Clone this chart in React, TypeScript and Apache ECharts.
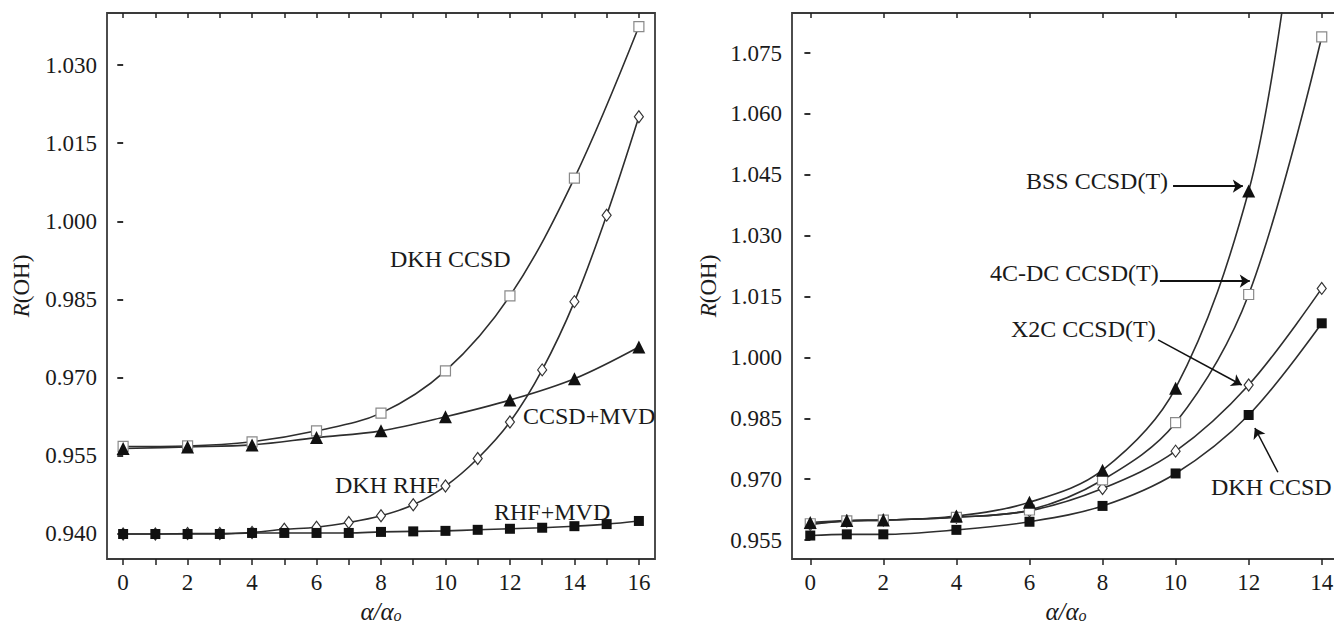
import React, { useEffect, useRef } from "react";
import * as echarts from "echarts";

// ---- Left panel data ----
const L_EVEN_X = [0, 2, 4, 6, 8, 10, 12, 14, 16];
const L_ALL_X = [0, 1, 2, 3, 4, 5, 6, 7, 8, 9, 10, 11, 12, 13, 14, 15, 16];
const L_DKH_CCSD = [0.9568, 0.9569, 0.9577, 0.9598, 0.9632, 0.9713, 0.9857, 1.0083, 1.0374];
const L_DKH_RHF = [0.94, 0.94, 0.9401, 0.9401, 0.9403, 0.9409, 0.9413, 0.9422, 0.9435, 0.9456, 0.9492, 0.9545, 0.9615, 0.9715, 0.9846, 1.0012, 1.0201];
const L_CCSD_MVD = [0.9564, 0.9567, 0.9571, 0.9585, 0.9598, 0.9625, 0.9657, 0.9698, 0.9759];
const L_RHF_MVD = [0.94, 0.94, 0.94, 0.94, 0.9402, 0.9402, 0.9402, 0.9402, 0.9404, 0.9405, 0.9406, 0.9408, 0.941, 0.9412, 0.9415, 0.9419, 0.9425];
const L_X_TICKS = [0, 1, 2, 3, 4, 5, 6, 7, 8, 9, 10, 11, 12, 13, 14, 15, 16];
const L_X_LABELS = [0, 2, 4, 6, 8, 10, 12, 14, 16];
const L_Y_TICKS = [0.94, 0.955, 0.97, 0.985, 1.0, 1.015, 1.03];

// ---- Right panel data ----
const R_X = [0, 1, 2, 4, 6, 8, 10, 12, 14];
const R_BSS_X = [0, 1, 2, 4, 6, 8, 10, 12, 13];
const R_BSS = [0.9593, 0.9598, 0.9599, 0.9609, 0.9643, 0.9722, 0.9924, 1.041, 1.091];
const R_4CDC = [0.959, 0.9597, 0.9599, 0.9606, 0.9624, 0.9698, 0.9839, 1.0155, 1.079];
const R_X2C = [0.9588, 0.9597, 0.9599, 0.9606, 0.9622, 0.9677, 0.9769, 0.9932, 1.017];
const R_DKH = [0.9561, 0.9564, 0.9564, 0.9575, 0.9595, 0.9634, 0.9714, 0.9858, 1.0084];
const R_X_TICKS = [0, 2, 4, 6, 8, 10, 12, 14];
const R_Y_TICKS = [0.955, 0.97, 0.985, 1.0, 1.015, 1.03, 1.045, 1.06, 1.075];

const FONT = '"Liberation Serif", "Times New Roman", Times, serif';
const INK = "#1a1a1a";
const LINE = "#2e2e2e";

function pairs(xs: number[], ys: number[]) {
  return xs.map((x, i) => [x, ys[i]]);
}

export default function App() {
  const ref = useRef<HTMLDivElement>(null);
  useEffect(() => {
    if (!ref.current) return;
    const chart = echarts.init(ref.current, undefined, { renderer: "svg" });

    const tickFont = { fontFamily: FONT, fontSize: 23, color: INK };
    const lineStyle = { color: LINE, width: 1.6 };

    const mkX = (grid: number, min: number, max: number, ticks: number[], labels: number[], inside: boolean) => ({
      type: "value",
      gridIndex: grid,
      min,
      max,
      axisLine: { show: false },
      splitLine: { show: false },
      axisTick: { show: true, inside, length: inside ? 5 : 6, customValues: ticks, lineStyle: { color: "#222", width: 1.5 } },
      axisLabel: inside
        ? { show: false }
        : { show: true, customValues: labels, margin: 12, ...tickFont, formatter: (v: number) => String(v) },
      ...(inside
        ? {}
        : {
            name: "{i|α/α}{s|o}",
            nameLocation: "middle",
            nameGap: 37,
            nameTextStyle: {
              rich: {
                i: { fontFamily: FONT, fontSize: 25, fontStyle: "italic", color: INK },
                s: { fontFamily: FONT, fontSize: 16, fontStyle: "italic", color: INK, padding: [9, 0, 0, 0] },
              },
            },
          }),
    });

    const mkY = (grid: number, min: number, max: number, ticks: number[], inside: boolean, gap: number) => ({
      type: "value",
      gridIndex: grid,
      min,
      max,
      axisLine: { show: false },
      splitLine: { show: false },
      axisTick: { show: true, inside, length: inside ? 5 : 6, customValues: ticks, lineStyle: { color: "#222", width: 1.5 } },
      axisLabel: inside
        ? { show: false }
        : { show: true, customValues: ticks, margin: 10, ...tickFont, formatter: (v: number) => v.toFixed(3) },
      ...(inside
        ? {}
        : {
            name: "{i|R}(OH)",
            nameLocation: "middle",
            nameRotate: 90,
            nameGap: gap,
            nameTextStyle: {
              fontFamily: FONT,
              fontSize: 23,
              color: INK,
              rich: {
                i: { fontFamily: FONT, fontSize: 23, fontStyle: "italic", color: INK },
              },
            },
          }),
    });

    const openSquare = { symbol: "rect", symbolSize: 10, itemStyle: { color: "#fff", borderColor: "#8a8a8a", borderWidth: 1.2 } };
    const openDiamond = { symbol: "diamond", symbolSize: [9, 12], itemStyle: { color: "#fff", borderColor: "#333", borderWidth: 1.2 } };
    const filledTri = { symbol: "triangle", symbolSize: 13, itemStyle: { color: "#111" } };
    const filledSquare = { symbol: "rect", symbolSize: 10, itemStyle: { color: "#111" } };

    const lineSeries = (name: string, xi: number, data: any[], marker: any, extra: any = {}) => ({
      type: "line",
      name,
      xAxisIndex: xi,
      yAxisIndex: xi,
      data,
      smooth: 0.35,
      showAllSymbol: true,
      lineStyle,
      clip: true,
      ...marker,
      ...extra,
    });

    const arrow = (from: number[], to: number[]) => [
      { coord: from, symbol: "none" },
      { coord: to, symbol: "arrow" },
    ];

    const bssData: any[] = pairs(R_BSS_X, R_BSS).map((p, i) =>
      i === R_BSS_X.length - 1 ? { value: p, symbol: "none" } : p
    );

    const text = (t: string, x: number, y: number) => ({
      type: "text",
      x,
      y,
      z: 100,
      style: {
        text: t,
        fontFamily: FONT,
        fontSize: 24,
        fill: INK,
        textAlign: "left",
        textVerticalAlign: "middle",
        align: "left",
        verticalAlign: "middle",
      },
    });

    const ml = (from: number[], to: number[], w: number) => ({
      silent: true,
      symbolSize: 10,
      label: { show: false },
      lineStyle: { color: "#111", width: w, type: "solid" },
      data: [arrow(from, to)],
    });

    const gridBase = {
      top: 13,
      bottom: 68,
      show: true,
      borderColor: "#3a3a3a",
      borderWidth: 1.8,
      backgroundColor: "transparent",
      containLabel: false,
      outerBoundsMode: "none",
    };

    chart.setOption({
      animation: false,
      backgroundColor: "#fff",
      grid: [
        { ...gridBase, left: 107, right: 679 },
        { ...gridBase, left: 792, right: -6 },
      ],
      xAxis: [
        mkX(0, -0.5, 16.5, L_X_TICKS, L_X_LABELS, false),
        mkX(1, -0.5, 14.5, R_X_TICKS, R_X_TICKS, false),
        mkX(0, -0.5, 16.5, L_X_TICKS, L_X_LABELS, true),
        mkX(1, -0.5, 14.5, R_X_TICKS, R_X_TICKS, true),
      ],
      yAxis: [
        mkY(0, 0.9352, 1.04, L_Y_TICKS, false, 74),
        mkY(1, 0.95032, 1.08486, R_Y_TICKS, false, 72),
        mkY(0, 0.9352, 1.04, L_Y_TICKS, true, 0),
        mkY(1, 0.95032, 1.08486, R_Y_TICKS, true, 0),
      ],
      series: [
        lineSeries("DKH RHF", 0, pairs(L_ALL_X, L_DKH_RHF), openDiamond),
        lineSeries("RHF+MVD", 0, pairs(L_ALL_X, L_RHF_MVD), filledSquare),
        lineSeries("DKH CCSD", 0, pairs(L_EVEN_X, L_DKH_CCSD), openSquare),
        lineSeries("CCSD+MVD", 0, pairs(L_EVEN_X, L_CCSD_MVD), filledTri),

        lineSeries("DKH CCSD (R)", 1, pairs(R_X, R_DKH), filledSquare, {
          markLine: ml([12.8, 0.9717], [12.17, 0.9826], 1.5),
        }),
        lineSeries("X2C CCSD(T)", 1, pairs(R_X, R_X2C), openDiamond, {
          markLine: ml([9.52, 1.0043], [11.81, 0.9932], 1.5),
        }),
        lineSeries("4C-DC CCSD(T)", 1, pairs(R_X, R_4CDC), openSquare, {
          markLine: ml([9.57, 1.0188], [12.03, 1.0188], 2),
        }),
        lineSeries("BSS CCSD(T)", 1, bssData, filledTri, {
          markLine: ml([9.93, 1.0422], [11.84, 1.0422], 2),
        }),
      ],
      graphic: [
        text("DKH CCSD", 390, 259),
        text("CCSD+MVD", 523, 416),
        text("DKH RHF", 335, 485),
        text("RHF+MVD", 494, 512),
        text("BSS CCSD(T)", 1026, 181),
        text("4C-DC CCSD(T)", 990, 273),
        text("X2C CCSD(T)", 1011, 329),
        text("DKH CCSD", 1211, 487),
      ],
    });
    return () => chart.dispose();
  }, []);
  return (
    <div
      ref={ref}
      style={{ position: "absolute", left: 0, top: 0, width: 1334, height: 627, overflow: "hidden", background: "#fff" }}
    />
  );
}
